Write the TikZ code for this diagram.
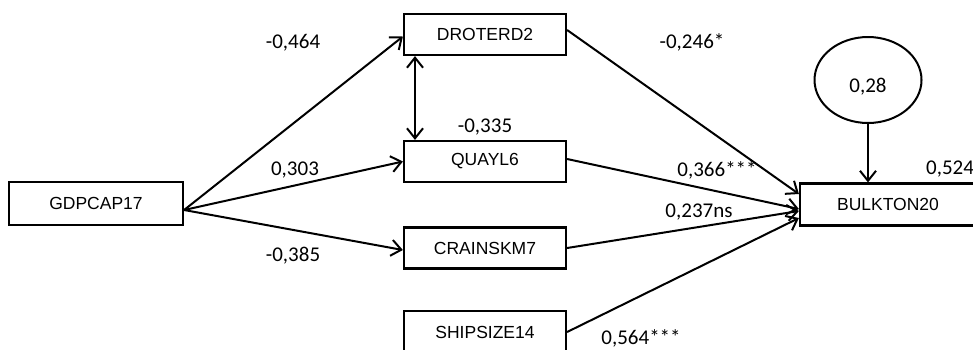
\documentclass[tikz,border=0pt]{standalone}
\usepackage{fontspec}
\setmainfont{Liberation Sans}
\newfontfamily\coeffont{Carlito}
\usetikzlibrary{arrows.meta,shapes.geometric}
\begin{document}
\begin{tikzpicture}[x=1pt,y=-1pt,
  var/.style={draw,line width=2.2pt,rectangle,inner sep=0pt,minimum height=41pt,
    minimum width=162pt,font=\fontsize{17.5}{20}\selectfont},
  coefl/.style={inner sep=0pt,font=\coeffont\fontsize{21}{24}\selectfont},
  barb/.tip={Straight Barb[length=10pt,width=16pt]},
  link/.style={line width=2pt,-barb},
  corr/.style={line width=2pt,barb-barb},
]
\useasboundingbox (0,0) rectangle (973,349);
\clip (0,0) rectangle (973,349);

% observed variables
\node[var,minimum width=174pt,minimum height=43pt] (gdp) at (96,203.5) {GDPCAP17};
\node[var] (dro) at (485,34.5) {DROTERD2};
\node[var] (qua) at (485,161.5) {QUAYL6};
\node[var] (cra) at (485,248) {CRAINSKM7};
\node[var,minimum height=42pt] (shp) at (485,332) {SHIPSIZE14};
\node[var,minimum width=176pt,minimum height=42pt] (blk) at (888,204.5) {BULKTON20};

% error term
\node[draw,ellipse,line width=2pt,minimum width=107pt,minimum height=86pt,inner sep=0pt] (err) at (868,80) {};
\node[coefl] (errv) at (868,87) {0,28};

% paths from GDPCAP17
\draw[link] ([yshift=-6.5pt]gdp.east) -- ([yshift=-2pt]dro.west);
\draw[link] ([yshift=-6.5pt]gdp.east) -- (qua.west);
\draw[link] ([yshift=-6.5pt]gdp.east) -- ([yshift=-2pt]cra.west);

% covariance
\draw[corr] ([xshift=-70pt]dro.south) -- ([xshift=-70pt]qua.north);

% paths into BULKTON20
\draw[link] ([yshift=4.5pt]dro.east) -- ([yshift=10.5pt]blk.west);
\draw[link] ([yshift=2.5pt]qua.east) -- ([yshift=-4.5pt]blk.west);
\draw[link] (cra.east) -- ([yshift=-6.5pt]blk.west);
\draw[link] (shp.east) -- ([yshift=-13.5pt]blk.west);
\draw[link] (err.south) -- (err.south |- blk.north);

% coefficients
\node[coefl] (c1) at (293,43) {-0,464};
\node[coefl] (c2) at (295,170) {0,303};
\node[coefl] (c3) at (293,256) {-0,385};
\node[coefl] (c4) at (485,127) {-0,335};
\node[coefl] (c5) at (692,42) {-0,246*};
\node[coefl] (c6) at (717,170) {0,366***};
\node[coefl] (c7) at (699,212) {0,237ns};
\node[coefl] (c8) at (641,338) {0,564***};
\node[coefl] (c9) at (950,169) {0,524};
\end{tikzpicture}
\end{document}
